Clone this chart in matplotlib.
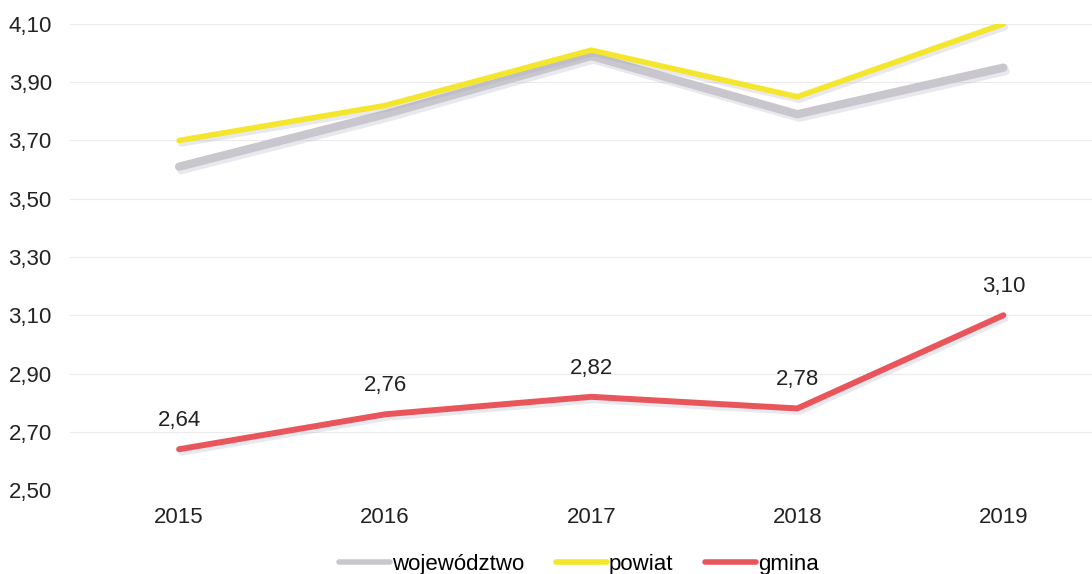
import matplotlib
matplotlib.use("Agg")
import matplotlib.pyplot as plt
import matplotlib.patheffects as pe

# dane
lata = [2015, 2016, 2017, 2018, 2019]
wojewodztwo = [3.61, 3.79, 3.99, 3.79, 3.95]
powiat = [3.70, 3.82, 4.01, 3.85, 4.10]
gmina = [2.64, 2.76, 2.82, 2.78, 3.10]
y_ticks = [2.50, 2.70, 2.90, 3.10, 3.30, 3.50, 3.70, 3.90, 4.10]

plt.rcParams["font.family"] = ["Liberation Sans", "DejaVu Sans"]

fig = plt.figure(figsize=(10.92, 5.74), dpi=100)
ax = fig.add_axes([0.064, 0.1463, 0.936, 0.812])

shadow = [pe.SimpleLineShadow(offset=(1.5, -2.5), shadow_color="#9a9ab8", alpha=0.22), pe.Normal()]

ax.plot(lata, wojewodztwo, color="#c9c7cd", lw=6, solid_capstyle="round",
        label="województwo", path_effects=shadow, zorder=3)
ax.plot(lata, powiat, color="#f4e62c", lw=4, solid_capstyle="round",
        label="powiat", path_effects=shadow, zorder=4)
ax.plot(lata, gmina, color="#e8565c", lw=4.3, solid_capstyle="round",
        label="gmina", path_effects=shadow, zorder=4)

for x, v in zip(lata, gmina):
    ax.annotate(f"{v:.2f}".replace(".", ","), (x, v), xytext=(0, 13),
                textcoords="offset points", ha="center", va="bottom",
                fontsize=16, color="#222222")

ax.set_xlim(2014.47, 2019.43)
ax.set_ylim(2.50, 4.10)
ax.set_xticks(lata)
ax.set_xticklabels([str(r) for r in lata], fontsize=16, color="#222222")
ax.set_yticks(y_ticks)
ax.set_yticklabels([f"{v:.2f}".replace(".", ",") for v in y_ticks], fontsize=16, color="#222222")
ax.tick_params(axis="x", length=0, pad=12)
ax.tick_params(axis="y", length=0, pad=13)
ax.yaxis.grid(True, color="#ececec", lw=0.8)
ax.set_axisbelow(True)
for s in ax.spines.values():
    s.set_visible(False)

leg = fig.legend(loc="lower center", bbox_to_anchor=(0.53, -0.037), ncol=3, frameon=False,
                 fontsize=16, handlelength=2.3, handletextpad=0.1, columnspacing=1.4)
for line in leg.get_lines():
    line.set_path_effects([])
    line.set_linewidth(4)

fig.savefig("out.png", dpi=100)
